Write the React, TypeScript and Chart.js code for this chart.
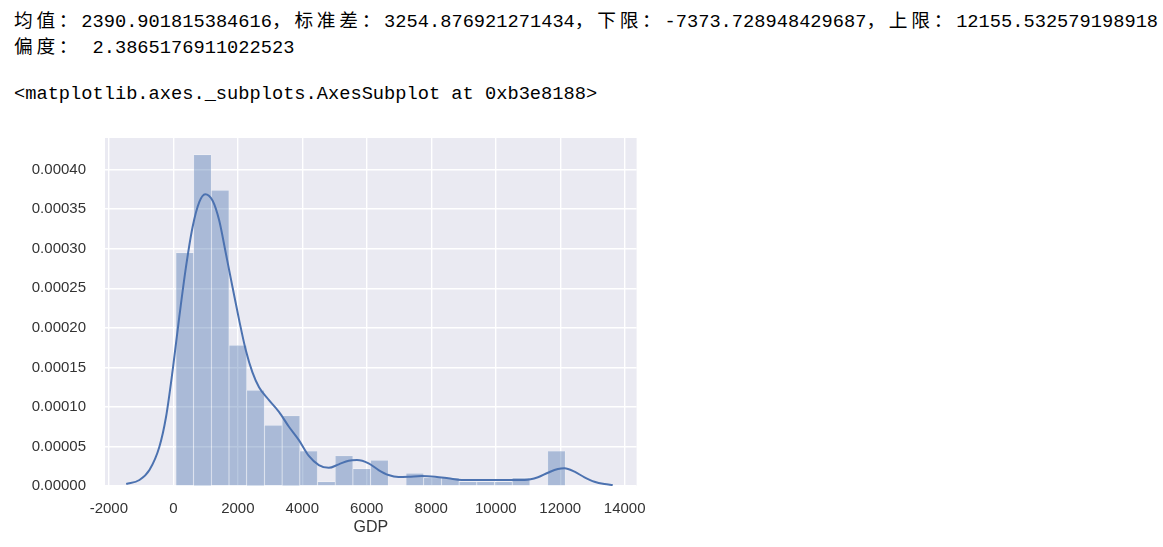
import { useEffect, useRef } from "react";
import Chart from "chart.js/auto";

// printed output above the plot
const outputLines = [
  "均值：2390.901815384616，标准差：3254.876921271434，下限：-7373.728948429687，上限：12155.532579198918",
  "偏度： 2.3865176911022523",
];
const reprLine = "<matplotlib.axes._subplots.AxesSubplot at 0xb3e8188>";

// histogram (density) – bin centres and heights
const binCenters = [
  354.5, 903.5, 1452.5, 2001.5, 2550.5, 3099.5, 3648.5, 4197.5, 4746.5, 5295.5, 5844.5,
  6393.5, 6942.5, 7491.5, 8040.5, 8589.5, 9138.5, 9687.5, 10236.5, 10785.5, 11334.5, 11883.5,
];
const binDensity = [
  0.000295, 0.000419, 0.000374, 0.000178, 0.000121, 0.0000767, 0.0000888, 0.0000442, 0.0000055,
  0.0000383, 0.0000219, 0.0000325, null, 0.000016, 0.0000105, 0.0000105, 0.0000055, 0.0000055,
  0.0000055, 0.0000105, null, 0.0000442,
];

// kde curve
const kdeX = [
  -1462, -1051, -742, -433, -226, -21, 185, 392, 597, 803, 989, 1215, 1421, 1629, 1833, 2040,
  2246, 2451, 2658, 2967, 3276, 3585, 3894, 4203, 4512, 4821, 5130, 5439, 5696, 6056, 6366,
  6675, 6984, 7293, 7704, 8117, 8529, 8941, 9456, 9867, 10899, 11310, 11619, 11928, 12135,
  12444, 12753, 13062, 13371, 13628,
];
const kdeY = [
  0.0000025, 0.0000076, 0.0000202, 0.0000496, 0.0000875, 0.0001465, 0.000214, 0.000277,
  0.0003275, 0.000359, 0.000369, 0.000361, 0.000336, 0.000294, 0.000252, 0.00021, 0.000172,
  0.000144, 0.000125, 0.0001085, 0.0000937, 0.0000749, 0.000058, 0.000038, 0.0000265,
  0.000023, 0.0000274, 0.000032, 0.0000328, 0.0000287, 0.0000202, 0.0000139, 0.0000114,
  0.0000117, 0.0000126, 0.0000117, 0.0000097, 0.0000076, 0.0000076, 0.0000076, 0.0000076,
  0.000011, 0.0000168, 0.0000215, 0.0000224, 0.0000181, 0.000011, 0.0000054, 0.0000025,
  0.0000013,
];

const xTicks = [-2000, 0, 2000, 4000, 6000, 8000, 10000, 12000, 14000];
const yTicks = [0, 0.00005, 0.0001, 0.00015, 0.0002, 0.00025, 0.0003, 0.00035, 0.0004];

const isWide = (c: string) => /[\u3000-\u9fff\uff00-\uffef]/.test(c);

const MonoText = ({ text }: { text: string }) => (
  <>
    {Array.from(text).map((c, i) =>
      isWide(c) ? (
        <span key={i} style={{ display: "inline-block", width: "2ch" }}>
          {c}
        </span>
      ) : (
        c
      )
    )}
  </>
);

const GdpDistChart = () => {
  const chartRef = useRef<HTMLCanvasElement>(null);
  const chartInstance = useRef<Chart | null>(null);

  useEffect(() => {
    if (chartInstance.current) chartInstance.current.destroy();
    const ctx = chartRef.current!.getContext("2d")!;

    const bgPlugin = {
      id: "axesBg",
      beforeDraw: (chart: any) => {
        const { ctx, chartArea } = chart;
        ctx.save();
        ctx.fillStyle = "#EAEAF2";
        ctx.fillRect(chartArea.left, chartArea.top, chartArea.right - chartArea.left, chartArea.bottom - chartArea.top);
        ctx.restore();
      },
    };

    const font = "'Liberation Sans', Arial, sans-serif";

    chartInstance.current = new Chart(ctx, {
      type: "bar",
      data: {
        datasets: [
          {
            type: "line",
            data: kdeX.map((x, i) => ({ x, y: kdeY[i] })),
            borderColor: "#4C72B0",
            borderWidth: 2,
            pointRadius: 0,
            cubicInterpolationMode: "monotone",
            fill: false,
            order: 0,
          } as any,
          {
            type: "bar",
            data: binCenters.map((x, i) => ({ x, y: binDensity[i] })),
            backgroundColor: "rgba(76, 114, 176, 0.4)",
            borderColor: "rgba(255, 255, 255, 0.45)",
            borderWidth: { left: 0.6, right: 0.6, top: 0.6, bottom: 0 },
            barPercentage: 1,
            categoryPercentage: 1,
            order: 1,
          } as any,
        ],
      },
      options: {
        responsive: false,
        animation: false,
        layout: { padding: { top: 8, right: 20, left: 0, bottom: 0 } },
        plugins: {
          legend: { display: false },
          tooltip: { enabled: false },
        },
        scales: {
          x: {
            type: "linear",
            min: -2120,
            max: 14370,
            offset: false,
            afterBuildTicks: (axis: any) => {
              axis.ticks = xTicks.map((value) => ({ value }));
            },
            afterFit: (scale: any) => {
              scale.height = 61;
            },
            grid: { color: "#FFFFFF", lineWidth: 1.4, drawTicks: false, offset: false },
            border: { display: false },
            ticks: {
              color: "#333333",
              padding: 14,
              maxRotation: 0,
              autoSkip: false,
              font: { family: font, size: 15 },
              callback: (value: any) => String(value),
            },
            title: {
              display: true,
              text: "GDP",
              color: "#333333",
              font: { family: font, size: 16 },
              padding: { top: 0, bottom: 10 },
            },
          },
          y: {
            min: 0,
            max: 0.00044,
            afterBuildTicks: (axis: any) => {
              axis.ticks = yTicks.map((value) => ({ value }));
            },
            afterFit: (scale: any) => {
              scale.width = 105;
              scale.paddingTop = 0;
              scale.paddingBottom = 0;
            },
            grid: { color: "#FFFFFF", lineWidth: 1.4, drawTicks: false },
            border: { display: false },
            ticks: {
              color: "#333333",
              padding: 19,
              font: { family: font, size: 15 },
              callback: (value: any) => Number(value).toFixed(5),
            },
          },
        },
      },
      plugins: [bgPlugin],
    });

    return () => {
      if (chartInstance.current) {
        chartInstance.current.destroy();
        chartInstance.current = null;
      }
    };
  }, []);

  return (
    <canvas
      ref={chartRef}
      width={660}
      height={417}
      style={{ position: "absolute", left: 0, top: 130, width: 660, height: 417 }}
    />
  );
};

export default function App() {
  const mono: React.CSSProperties = {
    position: "absolute",
    left: 14,
    fontFamily: "'Liberation Mono', 'Noto Sans CJK SC', monospace",
    fontSize: 18.7,
    lineHeight: "26px",
    color: "#000",
    whiteSpace: "pre",
  };
  return (
    <div style={{ position: "absolute", left: 0, top: 0, width: 1163, height: 547, background: "#fff", overflow: "hidden" }}>
      <div style={{ ...mono, top: 9 }}>
        {outputLines.map((l, i) => (
          <div key={i}>
            <MonoText text={l} />
          </div>
        ))}
      </div>
      <div style={{ ...mono, top: 80.5 }}>{reprLine}</div>
      <GdpDistChart />
    </div>
  );
}
